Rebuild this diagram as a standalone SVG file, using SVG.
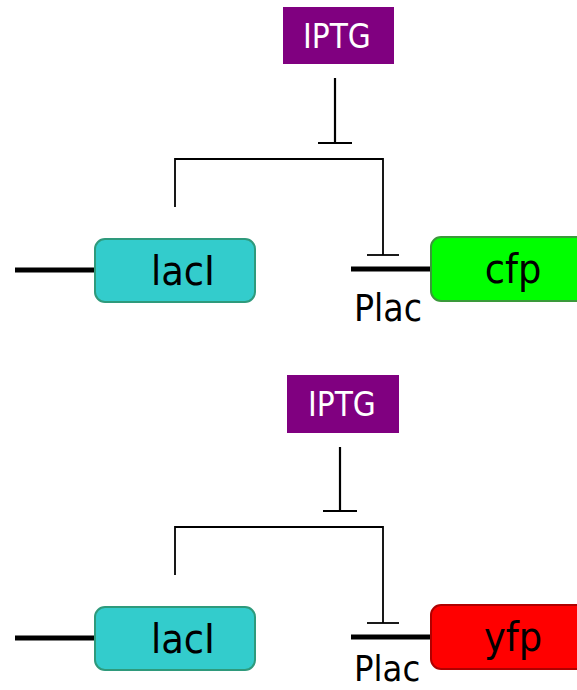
<svg xmlns="http://www.w3.org/2000/svg" width="577" height="690" viewBox="0 0 577 690">
<style>
.lbl{font-family:"DejaVu Sans Condensed","DejaVu Sans",sans-serif;fill:#000;text-anchor:middle}
.big{font-size:41px}
.plac{font-size:37px;text-anchor:start}
.iptg{font-family:"DejaVu Sans Condensed","DejaVu Sans",sans-serif;font-size:33px;fill:#fff;text-anchor:middle}
.dna{stroke:#000;stroke-width:5;fill:none}
.thin{stroke:#000;stroke-width:1.8;fill:none}
.med{stroke:#000;stroke-width:2.2;fill:none}
.lac{fill:#33CCCC;stroke:#2E9A7C;stroke-width:2}
.cfp{fill:#00FF00;stroke:#3A9A3A;stroke-width:2}
.yfp{fill:#FF0000;stroke:#B00000;stroke-width:2}
</style>
<rect width="577" height="690" fill="#fff"/>
<g id="connectors">
  <line class="dna" x1="15" y1="270" x2="95" y2="270"/>
  <line class="dna" x1="351" y1="269" x2="431" y2="269"/>
  <line class="med" x1="335" y1="78" x2="335" y2="143"/>
  <line class="med" x1="318" y1="143" x2="352" y2="143"/>
  <polyline class="thin" points="175,207 175,159 383,159 383,255"/>
  <line class="thin" x1="367" y1="255" x2="399" y2="255"/>
  <line class="dna" x1="15" y1="638" x2="95" y2="638"/>
  <line class="dna" x1="351" y1="637" x2="431" y2="637"/>
  <line class="med" x1="340" y1="447" x2="340" y2="511"/>
  <line class="med" x1="323" y1="511" x2="357" y2="511"/>
  <polyline class="thin" points="175,575 175,527 383,527 383,623"/>
  <line class="thin" x1="367" y1="623" x2="399" y2="623"/>
</g>
<g id="iptg1">
  <rect x="283" y="7" width="111" height="57" fill="#800080"/>
  <text class="iptg" x="337" y="48">IPTG</text>
</g>
<g id="lacI1">
  <rect class="lac" x="95" y="239" width="160" height="63" rx="10"/>
  <text class="lbl big" x="183" y="285">lacI</text>
</g>
<g id="plac1">
  <text class="lbl plac" x="354" y="321">Plac</text>
</g>
<g id="cfp">
  <rect class="cfp" x="431" y="237" width="160" height="64" rx="10"/>
  <text class="lbl big" x="513" y="283">cfp</text>
</g>
<g id="iptg2">
  <rect x="287" y="375" width="112" height="58" fill="#800080"/>
  <text class="iptg" x="342" y="416">IPTG</text>
</g>
<g id="lacI2">
  <rect class="lac" x="95" y="607" width="160" height="63" rx="10"/>
  <text class="lbl big" x="183" y="653">lacI</text>
</g>
<g id="plac2">
  <text class="lbl plac" x="354" y="681" style="font-size:36px">Plac</text>
</g>
<g id="yfp">
  <rect class="yfp" x="431" y="605" width="160" height="64" rx="10"/>
  <text class="lbl big" x="513" y="651">yfp</text>
</g>
</svg>
